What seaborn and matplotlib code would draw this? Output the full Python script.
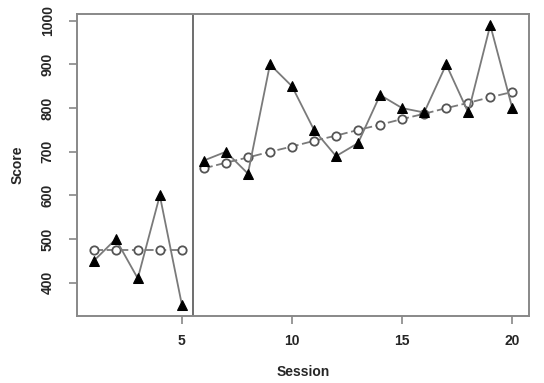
import matplotlib.pyplot as plt
import seaborn as sns
import pandas as pd

# Data
sessions = list(range(1, 21))
observed = [450, 500, 410, 600, 350,
            680, 700, 650, 900, 850, 750, 690, 720, 830, 800, 790, 900, 790, 990, 800]
trend = [475, 475, 475, 475, 475,
         662, 675, 687, 700, 712, 725, 737, 750, 762, 775, 787, 800, 812, 825, 837]
phase = ["A"] * 5 + ["B"] * 15
phase_change = 5.5

df = pd.DataFrame({"Session": sessions, "Score": observed, "Trend": trend, "Phase": phase})

sns.set_style("white")
plt.rcParams['font.family'] = ['Liberation Sans', 'DejaVu Sans']
plt.rcParams['font.weight'] = 'bold'

line_col = "#7a7a7a"
fig = plt.figure(figsize=(5.44, 3.83), dpi=100)
ax = fig.add_axes([0.1415, 0.175, 0.831, 0.789])

for ph in ["A", "B"]:
    sub = df[df["Phase"] == ph]
    sns.lineplot(data=sub, x="Session", y="Trend", ax=ax, color=line_col, linewidth=1.3,
                 linestyle=(0, (5, 2)), marker="o", markersize=6, markerfacecolor="white",
                 markeredgecolor="#555555", markeredgewidth=1.3, estimator=None, zorder=2)
    sns.lineplot(data=sub, x="Session", y="Score", ax=ax, color=line_col, linewidth=1.3,
                 marker="^", markersize=7.5, markerfacecolor="black", markeredgecolor="black",
                 estimator=None, zorder=3)

ax.axvline(phase_change, color="#555555", linewidth=1.2, zorder=1)

ax.set_xlim(0.24, 20.76)
ax.set_ylim(324, 1016)
ax.set_xticks([5, 10, 15, 20])
ax.set_yticks([400, 500, 600, 700, 800, 900, 1000])
for lab in ax.get_yticklabels():
    lab.set_rotation(90)
    lab.set_va("center")
ax.tick_params(axis="both", direction="out", length=6, width=1.2, color="#888888",
               labelsize=10, left=True, bottom=True)
ax.tick_params(axis="x", pad=7)
ax.tick_params(axis="y", pad=10)
for s in ax.spines.values():
    s.set_color("#888888")
    s.set_linewidth(1.4)

ax.set_xlabel("Session", fontsize=10, fontweight="bold", labelpad=12)
ax.set_ylabel("Score", fontsize=10, fontweight="bold", labelpad=12)

fig.savefig("out.png", dpi=100)
